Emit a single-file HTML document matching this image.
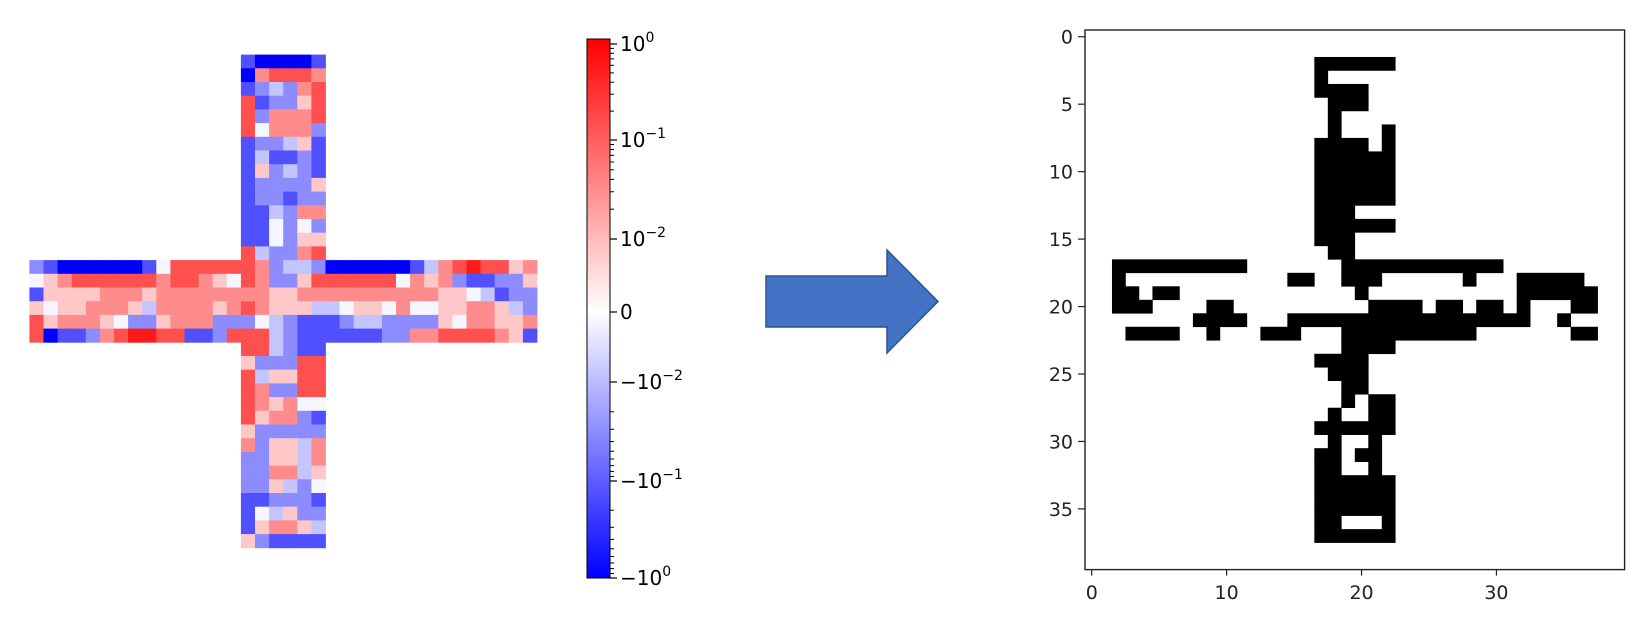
<!DOCTYPE html>
<html><head><meta charset="utf-8">
<style>
html,body{margin:0;padding:0;background:#fff;}
svg{display:block;font-family:"DejaVu Sans","Liberation Sans",sans-serif;}
</style></head>
<body>
<svg id="fig" width="1647" height="634" viewBox="0 0 1647 634" xmlns="http://www.w3.org/2000/svg">
<defs>
<linearGradient id="bwr" x1="0" y1="0" x2="0" y2="1">
<stop offset="0" stop-color="#ff0000"/>
<stop offset="0.506" stop-color="#ffffff"/>
<stop offset="1" stop-color="#0000ff"/>
</linearGradient>
</defs>
<g id="heat"></g>
<g id="cbar"></g>
<polygon points="766,276 887,276 887,250 938,301.5 887,353 887,327 766,327" fill="#4472c4" stroke="#2f528f" stroke-width="1.5"/>
<g id="bin"></g>
</svg>
<script>
// ---- Heatmap data (levels -4 strong blue .. +4 strong red) ----
const armCols = [15, 6];           // vertical arm starts at column 15, 6 wide
const topArm = [
[-3,-4,-4,-4,-4,-3],[-4,2,3,3,3,2],[-3,-2,-1,-2,2,3],[3,-3,-2,-2,1,3],[3,-2,2,2,2,3],
[3,0,2,2,2,-2],[-3,-2,-2,-1,1,-3],[-3,-1,-3,-3,-2,-3],[-3,1,-2,-1,-2,-3],[-3,-2,-2,-2,-2,1],
[-3,-2,-2,-3,-2,-2],[-3,-3,-1,-2,2,2],[-3,-3,0,-2,0,-2],[-3,-3,0,-2,1,1],[3,-1,-2,-2,2,3]];
const midArm = [
[-2,-3,-4,-4,-4,-4,-4,-4,-3,0,3,3,3,3,3,3,2,-2,-1,-1,-2,-4,-4,-4,-4,-4,-4,-3,-1,2,3,4,3,3,1,2],
[0,1,2,3,3,3,3,3,3,2,3,3,2,1,0,3,2,-2,-2,1,3,3,3,3,3,3,0,2,1,2,-2,-3,-3,-2,-2,1],
[-3,1,1,1,1,2,2,2,1,2,2,2,2,2,2,2,2,1,1,2,2,2,2,2,2,2,2,2,2,1,1,0,-1,-3,-2,-2],
[1,0,1,1,2,2,2,1,-1,2,2,2,2,1,2,3,2,1,1,1,-1,-1,0,1,1,0,2,0,0,1,1,2,2,1,-1,-2],
[3,1,2,2,2,1,0,-2,-2,1,2,2,2,-2,-2,-2,0,-1,-2,-3,-3,-3,-2,-1,-1,-2,-2,-2,-2,1,0,2,2,1,1,2],
[3,-4,-3,-3,-2,2,3,4,4,3,3,-3,-3,-2,3,3,3,-1,-2,-3,-3,-3,-3,-3,-3,-2,-2,2,2,3,3,3,3,2,1,-3]];
const botArm = [
[3,3,-1,-2,-3,-3],[1,-2,-2,-2,3,3],[3,-1,1,1,3,3],[3,2,-2,-2,3,3],[3,2,1,2,0,0],
[3,1,2,2,-2,-3],[1,-2,-2,-2,-2,-2],[2,-2,1,1,-1,2],[-2,-2,1,1,-1,2],[-2,-2,2,2,-1,1],
[-2,-2,1,-1,-2,0],[-3,-3,-2,-2,-2,-3],[-3,0,-1,1,-2,-2],[-3,1,2,2,1,-1],[1,-2,-3,-3,-3,-3]];
const levelColors = ["#0000ff","#5050ff","#8c8cff","#c4c4ff","#f6f6ff","#ffc8c8","#ff8c8c","#ff5050","#ff1a1a"];

// ---- Colorbar tick labels ----
const cbLabels = [["10","0"],["10","\u22121"],["10","\u22122"],["0",""],["\u221210","\u22122"],["\u221210","\u22121"],["\u221210","0"]];
const cbLabelY = [44,140,239,312,382,481,578];

// ---- Binary image data: [row, startCol, endCol] black runs ----
const blackRuns = [
[2,17,22],[3,17,17],[4,17,20],[5,18,20],[6,18,18],[7,18,18],[7,22,22],[8,17,20],[8,22,22],
[9,17,22],[10,17,22],[11,17,22],[12,17,22],[13,17,19],[14,17,22],[15,17,19],[16,18,19],
[17,2,11],[17,19,30],
[18,2,2],[18,15,16],[18,19,21],[18,28,28],[18,32,36],
[19,2,3],[19,5,6],[19,20,20],[19,32,37],
[20,2,4],[20,9,10],[20,21,24],[20,26,27],[20,29,30],[20,32,32],[20,36,37],
[21,8,11],[21,15,32],[21,35,35],
[22,3,6],[22,9,9],[22,13,15],[22,19,28],[22,36,37],
[23,19,22],[24,17,20],[25,18,20],[26,19,20],[27,19,19],[27,21,22],[28,18,18],[28,21,22],
[29,17,22],[30,18,18],[30,21,21],[31,17,18],[31,20,21],[32,17,18],[32,21,21],
[33,17,22],[34,17,22],[35,17,22],[36,17,18],[36,22,22],[37,17,22]];
const xTicks = [0,10,20,30];
const yTicks = [0,5,10,15,20,25,30,35];
const nGrid = 40;

const NS = "http://www.w3.org/2000/svg";
function mk(tag, attrs, parent){const e=document.createElementNS(NS,tag);for(const k in attrs)e.setAttribute(k,attrs[k]);parent.appendChild(e);return e;}

// heatmap axes
const hx0=29.4, hcw=14.1, hy0=54.6, hch=13.7;
const hX = c => hx0 + c*hcw;
const hY = r => hy0 + r*hch;
const heat = document.getElementById('heat');
function cell(r,c,v){
  const e = mk('rect',{x:hX(c).toFixed(2),y:hY(r).toFixed(2),width:(hcw+0.4).toFixed(2),height:(hch+0.4).toFixed(2),fill:levelColors[v+4]},heat);
  
  
}
topArm.forEach((row,r)=>row.forEach((v,i)=>cell(r,armCols[0]+i,v)));
midArm.forEach((row,r)=>row.forEach((v,c)=>cell(topArm.length+r,c,v)));
botArm.forEach((row,r)=>row.forEach((v,i)=>cell(topArm.length+midArm.length+r,armCols[0]+i,v)));

// colorbar
const cb = document.getElementById('cbar');
const cbx=587, cbw=23, cby=39, cbh=539;
let e = mk('rect',{x:cbx,y:cby,width:cbw,height:cbh,fill:'url(#bwr)',stroke:'#000','stroke-width':1},cb);


// minor ticks (log spaced within decades)
const decades=[[44,140],[140,239],[578,481],[481,382]];
decades.forEach(([a,b])=>{
  for(let k=2;k<=9;k++){
    const y=a+(b-a)*(1-Math.log10(k));
    const t=mk('line',{x1:cbx+cbw,x2:cbx+cbw+4,y1:y,y2:y,stroke:'#000','stroke-width':1},cb);
    
    
  }
});
cbLabelY.forEach((y,i)=>{
  const t=mk('line',{x1:cbx+cbw,x2:cbx+cbw+7,y1:y,y2:y,stroke:'#000','stroke-width':1.2},cb);
  
  
  const tx=mk('text',{x:cbx+cbw+10,y:y+7,'font-size':20,fill:'#000'},cb);
  
  
  tx.textContent=cbLabels[i][0];
  if(cbLabels[i][1]){
    const s=mk('tspan',{dy:-9,'font-size':14},tx);
    s.textContent=cbLabels[i][1];
  }
});

// binary image
const bin=document.getElementById('bin');
const bx0=1085, by0=30, bu=13.49;
const bX = v => bx0 + (v+0.5)*bu;
const bY = v => by0 + (v+0.5)*bu;
blackRuns.forEach(([r,s,t])=>{
  const el=mk('rect',{x:(bX(s)-bu/2).toFixed(2),y:(bY(r)-bu/2).toFixed(2),width:((t-s+1)*bu+0.3).toFixed(2),height:(bu+0.3).toFixed(2),fill:'#000'},bin);
  
  
});
e=mk('rect',{x:bx0,y:by0,width:nGrid*bu,height:nGrid*bu,fill:'none',stroke:'#222','stroke-width':1.4},bin);


xTicks.forEach(v=>{
  const x=bX(v);
  const t=mk('line',{x1:x,x2:x,y1:by0+nGrid*bu,y2:by0+nGrid*bu+6,stroke:'#222','stroke-width':1.2},bin);
  
  
  const tx=mk('text',{x:x,y:599,'font-size':19,'text-anchor':'middle',fill:'#222'},bin);
  
  
  tx.textContent=v;
});
yTicks.forEach(v=>{
  const y=bY(v);
  const t=mk('line',{x1:bx0-7,x2:bx0,y1:y,y2:y,stroke:'#222','stroke-width':1.2},bin);
  
  
  const tx=mk('text',{x:bx0-12,y:y+7,'font-size':19,'text-anchor':'end',fill:'#222'},bin);
  
  
  tx.textContent=v;
});
</script>
</body></html>
